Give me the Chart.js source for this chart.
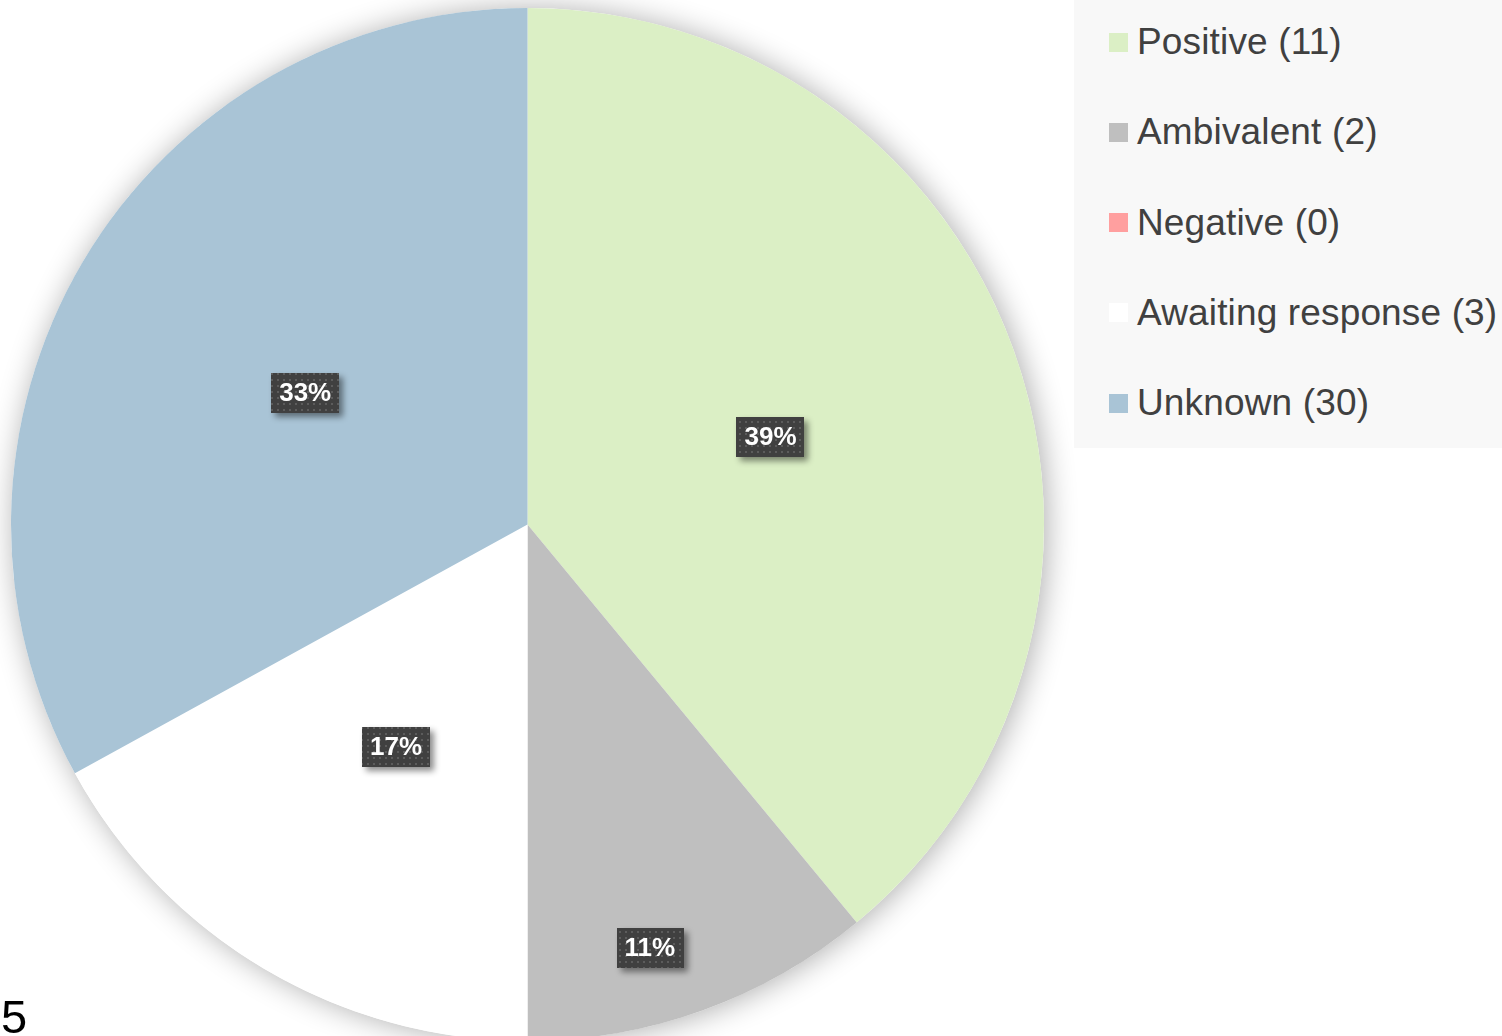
<!DOCTYPE html>
<html>
<head>
<meta charset="utf-8">
<script src="https://cdn.jsdelivr.net/npm/chart.js@4"></script>
<style>
  html, body { margin: 0; padding: 0; width: 1502px; height: 1036px; overflow: hidden; background: #ffffff; font-family: "Liberation Sans", Arial, sans-serif; }
  #wrap { position: absolute; left: 0; top: 0; width: 1100px; height: 1060px; }
  #legend { position: absolute; left: 1074px; top: 0; width: 428px; height: 448px; background: #f8f8f8; }
  .item { position: absolute; left: 35px; height: 44px; display: flex; align-items: center; white-space: nowrap; }
  .sw { width: 19px; height: 19px; margin-right: 9px; flex: none; }
  .lt { font-size: 37px; color: #404040; line-height: 44px; letter-spacing: 0.15px; }
  #page { position: absolute; left: 1px; top: 993px; font-size: 47px; color: #000; line-height: 47px; }
</style>
</head>
<body>
<div id="wrap"><canvas id="c"></canvas></div>
<div id="legend"></div>
<div id="page">5</div>
<script>
// ---- data ----
const categories = ["Positive", "Ambivalent", "Negative", "Awaiting response", "Unknown"];
const legendCounts = [11, 2, 0, 3, 30];
const shareValues = [39, 11, 0, 17, 33];
const sliceColors = ["#dbefc5", "#bfbfbf", "#ff9f9f", "#ffffff", "#a9c4d6"];

// ---- legend (HTML) ----
const legendEl = document.getElementById('legend');
categories.forEach((name, i) => {
  const row = document.createElement('div');
  row.className = 'item';
  row.style.top = (42 + i * 90.3 - 22) + 'px';
  const sw = document.createElement('div');
  sw.className = 'sw';
  sw.style.background = sliceColors[i];
  const t = document.createElement('span');
  t.className = 'lt';
  t.textContent = name + ' (' + legendCounts[i] + ')';
  row.appendChild(sw); row.appendChild(t);
  legendEl.appendChild(row);
});

// ---- label box pattern ----
function makePattern(ctx) {
  const p = document.createElement('canvas');
  p.width = 6; p.height = 6;
  const pc = p.getContext('2d');
  pc.fillStyle = '#404040';
  pc.fillRect(0, 0, 6, 6);
  pc.fillStyle = '#5c5c5c';
  pc.fillRect(1, 1, 2, 2);
  return ctx.createPattern(p, 'repeat');
}

const pieShadow = {
  id: 'pieShadow',
  beforeDatasetsDraw(chart) {
    const meta = chart.getDatasetMeta(0);
    const a = meta.data[0];
    if (!a) return;
    const ctx = chart.ctx;
    ctx.save();
    ctx.shadowColor = 'rgba(0,0,0,0.32)';
    ctx.shadowBlur = 30;
    ctx.shadowOffsetX = 3;
    ctx.shadowOffsetY = 1;
    ctx.fillStyle = '#ffffff';
    ctx.beginPath();
    ctx.arc(a.x, a.y, a.outerRadius, 0, Math.PI * 2);
    ctx.fill();
    ctx.restore();
  }
};

const boxLabels = {
  id: 'boxLabels',
  afterDatasetsDraw(chart, args, opts) {
    const ctx = chart.ctx;
    const meta = chart.getDatasetMeta(0);
    const data = chart.data.datasets[0].data;
    const total = data.reduce((s, v) => s + v, 0);
    const pat = makePattern(ctx);
    meta.data.forEach((arc, i) => {
      if (!data[i]) return;
      const shift = ((opts.angleShift && opts.angleShift[i]) || 0) * Math.PI / 180;
      const mid = (arc.startAngle + arc.endAngle) / 2 + shift;
      const f = (opts.radial && opts.radial[i]) || 0.5;
      const x = arc.x + Math.cos(mid) * arc.outerRadius * f;
      const y = arc.y + Math.sin(mid) * arc.outerRadius * f;
      const txt = Math.round(data[i] / total * 100) + '%';
      ctx.save();
      ctx.font = 'bold 26px "Liberation Sans", Arial, sans-serif';
      const w = ctx.measureText(txt).width + 16;
      const h = 40;
      ctx.shadowColor = 'rgba(0,0,0,0.45)';
      ctx.shadowBlur = 6;
      ctx.shadowOffsetX = 4;
      ctx.shadowOffsetY = 4;
      ctx.fillStyle = pat;
      ctx.fillRect(Math.round(x - w / 2), Math.round(y - h / 2), Math.round(w), h);
      ctx.restore();
      ctx.save();
      ctx.font = 'bold 26px "Liberation Sans", Arial, sans-serif';
      ctx.fillStyle = '#ffffff';
      ctx.textAlign = 'center';
      ctx.textBaseline = 'middle';
      ctx.fillText(txt, x, y + 1);
      ctx.restore();
    });
  }
};

new Chart(document.getElementById('c'), {
  type: 'pie',
  data: {
    labels: categories,
    datasets: [{
      data: shareValues,
      backgroundColor: sliceColors,
      borderWidth: 0
    }]
  },
  options: {
    responsive: true,
    maintainAspectRatio: false,
    animation: false,
    layout: { padding: { left: 11, top: 8, right: 56, bottom: 19 } },
    plugins: {
      legend: { display: false },
      tooltip: { enabled: false },
      boxLabels: { radial: [0.5, 0.854, 0.5, 0.5, 0.5], angleShift: [0, 3.7, 0, 0, 0] }
    }
  },
  plugins: [pieShadow, boxLabels]
});
</script>
</body>
</html>
